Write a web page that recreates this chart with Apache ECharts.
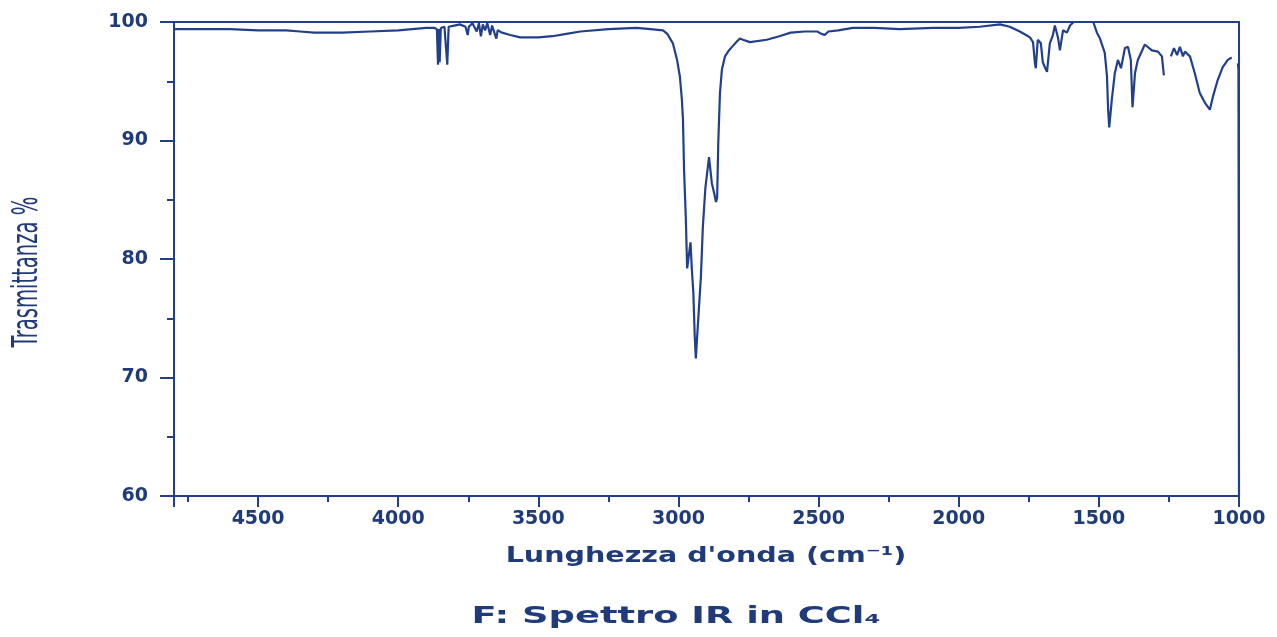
<!DOCTYPE html>
<html>
<head>
<meta charset="utf-8">
<script src="https://cdn.jsdelivr.net/npm/echarts@6/dist/echarts.min.js"></script>
<style>
html,body{margin:0;padding:0;background:#fff;}
#c{width:1277px;height:637px;}
</style>
</head>
<body>
<div id="c"></div>
<script>
// Wavenumber (cm-1) and transmittance (%)
const wavenumbers = [4800,4700,4600,4500,4400,4350,4300,4200,4100,4000,3950,3900,3870,3862,3858,3855,3852,3848,3835,3825,3820,3800,3780,3760,3752,3748,3735,3720,3712,3705,3698,3690,3682,3672,3665,3650,3645,3630,3600,3565,3500,3450,3400,3350,3250,3150,3100,3055,3040,3020,3005,2995,2988,2984,2980,2974,2969,2962,2957,2952,2947,2942,2938,2934,2928,2920,2913,2904,2899,2891,2886,2881,2874,2866,2862,2858,2852,2845,2834,2820,2809,2790,2781,2770,2745,2685,2640,2600,2550,2505,2490,2478,2465,2430,2378,2300,2210,2092,2000,1925,1853,1818,1782,1760,1746,1735,1728,1725,1718,1707,1700,1693,1685,1675,1664,1657,1646,1639,1628,1614,1603,1590,1520,1514,1507,1496,1479,1471,1467,1463,1454,1443,1432,1421,1407,1396,1386,1380,1371,1361,1336,1311,1289,1275,1268,1255,1243,1232,1221,1211,1200,1193,1175,1158,1140,1122,1104,1093,1076,1058,1040,1026,1015,1004,1002,1001,1000];
const transmittance = [99.4,99.4,99.4,99.3,99.3,99.2,99.1,99.1,99.2,99.3,99.4,99.5,99.5,99.4,96.4,99.4,96.6,99.5,99.6,96.4,99.6,99.7,99.8,99.6,98.9,99.6,99.9,99.2,99.9,98.8,99.8,99.3,99.9,98.9,99.7,98.6,99.3,99.1,98.9,98.7,98.7,98.8,99.0,99.2,99.4,99.5,99.4,99.3,99.0,98.2,96.8,95.4,93.5,91.8,87.5,83.6,79.2,80.5,81.4,79.0,77.2,73.5,71.6,73.2,75.5,78.5,82.7,86.0,87.0,88.6,87.5,86.4,85.7,84.8,85.2,89.8,94.0,96.0,97.1,97.6,97.9,98.4,98.6,98.5,98.3,98.5,98.8,99.1,99.2,99.2,99.0,98.9,99.2,99.3,99.5,99.5,99.4,99.5,99.5,99.6,99.8,99.6,99.2,98.9,98.7,98.3,96.5,96.1,98.5,98.2,96.6,96.2,95.8,98.2,98.9,99.7,98.7,97.6,99.3,99.1,99.7,100,100,99.9,99.1,98.6,97.4,95.4,92.6,91.1,93.4,95.7,96.8,96.1,97.8,97.9,96.8,92.8,95.7,96.8,98.1,97.6,97.5,97.1,95.5,null,97.1,97.8,97.2,97.9,97.1,97.5,97.1,95.7,94.0,93.2,92.6,93.7,95.1,96.2,96.8,97.0,null,96.5,96.0,80,60];
const xTicks = [1000,1500,2000,2500,3000,3500,4000,4500];
const yTicks = [60,70,80,90,100];
const titleText = 'F: Spettro IR in CCl\u2084';
const xName = "Lunghezza d'onda (cm\u207B\u00B9)";
const yName = 'Trasmittanza %';

const navy = '#22408a';
const textNavy = '#1f3b7c';
const seriesData = wavenumbers.map((w,i)=>[w, transmittance[i]===null ? '-' : transmittance[i]]);

const chart = echarts.init(document.getElementById('c'), null, {renderer:'canvas'});
chart.setOption({
  animation:false,
  backgroundColor:'#fff',
  graphic:[
    {type:'text', x:676, y:606, scaleX:1.6, scaleY:1,
     style:{text:titleText, textAlign:'center', textVerticalAlign:'top',
       font:'bold 23px "DejaVu Sans"', fill:textNavy}},
    {type:'text', x:706, y:546, scaleX:1.36, scaleY:1,
     style:{text:xName, textAlign:'center', textVerticalAlign:'top',
       font:'bold 21px "DejaVu Sans"', fill:textNavy}},
    {type:'text', x:28, y:272, rotation:Math.PI/2, scaleX:0.56, scaleY:1,
     style:{text:yName, textAlign:'center', textVerticalAlign:'middle',
       font:'35px "DejaVu Sans"', fill:textNavy}}
  ],
  grid:{left:174, right:38, top:22, bottom:141, show:true, borderColor:navy, borderWidth:2, backgroundColor:'transparent'},
  xAxis:{
    type:'value', inverse:true, min:1000, max:4800, interval:500,
    axisLine:{show:true, lineStyle:{color:navy, width:2}},
    axisTick:{show:true, length:11, lineStyle:{color:navy, width:2}},
    minorTick:{show:true, splitNumber:2, length:6, lineStyle:{color:navy, width:2}},
    splitLine:{show:false},
    axisLabel:{margin:14, fontFamily:'DejaVu Sans', fontWeight:'bold', fontSize:19, color:textNavy,
      formatter:v=> xTicks.indexOf(v)>=0 ? String(v) : ''}
  },
  yAxis:{
    type:'value', min:60, max:100, interval:10,
    axisLine:{show:true, lineStyle:{color:navy, width:2}},
    axisTick:{show:true, length:14, lineStyle:{color:navy, width:2}},
    minorTick:{show:true, splitNumber:2, length:7, lineStyle:{color:navy, width:2}},
    splitLine:{show:false},
    axisLabel:{margin:26, fontFamily:'DejaVu Sans', fontWeight:'bold', fontSize:19, color:textNavy,
      formatter:v=> yTicks.indexOf(v)>=0 ? String(v) : ''}
  },
  series:[{
    type:'line', data:seriesData, showSymbol:false, symbol:'none',
    connectNulls:false, clip:true,
    lineStyle:{color:navy, width:2.2}
  }]
});
</script>
</body>
</html>
